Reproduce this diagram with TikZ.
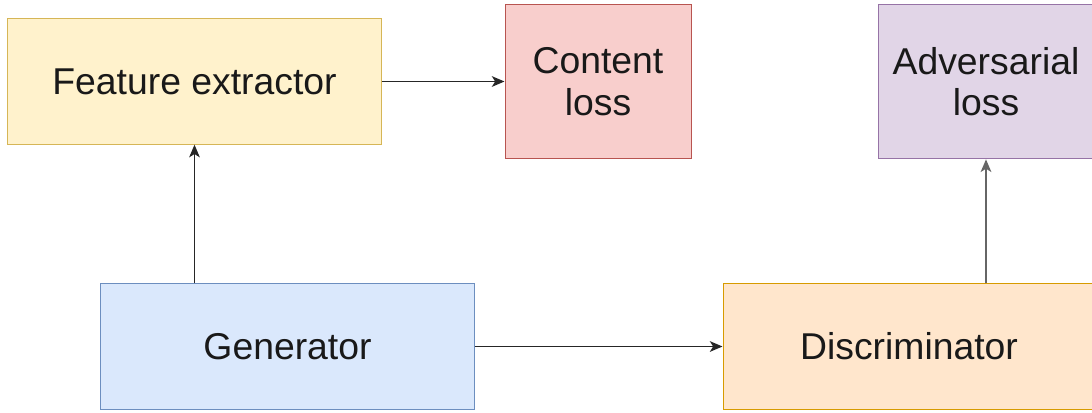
\documentclass[tikz,border=0pt]{standalone}
\usepackage{fontspec}
\setmainfont{Liberation Sans}
\usetikzlibrary{arrows.meta}

\definecolor{yellowfill}{HTML}{FFF2CC}
\definecolor{yellowline}{HTML}{D6B656}
\definecolor{redfill}{HTML}{F8CECC}
\definecolor{redline}{HTML}{B85450}
\definecolor{purplefill}{HTML}{E1D5E7}
\definecolor{purpleline}{HTML}{9673A6}
\definecolor{bluefill}{HTML}{DAE8FC}
\definecolor{blueline}{HTML}{6C8EBF}
\definecolor{orangefill}{HTML}{FFE6CC}
\definecolor{orangeline}{HTML}{D79B00}

\tikzset{
  block/.style={draw, line width=0.75pt, align=center, inner sep=0pt,
    font=\fontsize{28}{31}\selectfont, text=black!90},
  flow/.style={-{Stealth[length=9.5pt,width=8pt,inset=2.5pt]}, line width=1.1pt, black!85}
}

\begin{document}
\begin{tikzpicture}[x=0.75pt, y=-0.75pt]
  \useasboundingbox (0,0) rectangle (1092,412);
  \begin{scope}
  \clip (0,0) rectangle (1092,412);
  % top row
  \node [block, fill=yellowfill, draw=yellowline, minimum width=280pt, minimum height=94pt] (fe) at (194.5,81.5) {Feature extractor};
  \node [block, fill=redfill, draw=redline, minimum width=139.5pt, minimum height=116pt] (content) at (598,81.5) {Content\\loss};
  \node [block, fill=purplefill, draw=purpleline, minimum width=162pt, minimum height=116pt] (adv) at (986,81.5) {Adversarial\\loss};
  % bottom row
  \node [block, fill=bluefill, draw=blueline, minimum width=280pt, minimum height=94pt] (gen) at (287.5,346.5) {Generator};
  \node [block, fill=orangefill, draw=orangeline, minimum width=279pt, minimum height=94pt] (disc) at (909,346.5) {Discriminator};
  \end{scope}
  % connectors
  \draw [flow] (fe.east) -- (content.west);
  \draw [flow] (gen.north -| fe.south) -- (fe.south);
  \draw [flow] (gen.east) -- (disc.west);
  \draw [flow, black!60] (disc.north -| adv.south) -- (adv.south);
\end{tikzpicture}
\end{document}
